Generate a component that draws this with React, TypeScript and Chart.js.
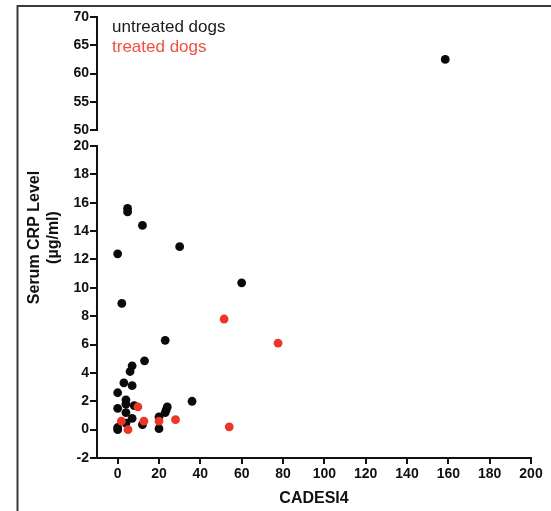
import React, { useEffect, useRef } from 'react';
import { Chart, registerables } from 'chart.js';

Chart.register(...registerables);

// ---- data ----
const seriesNames = ['untreated dogs', 'treated dogs'];
const untreatedCadesi = [158.5, 4.8, 4.8, 12, 30, 0, 60, 2, 23, 13, 7, 6, 7, 3, 0, 36, 4, 4, 8, 24, 23.5, 23, 0, 4, 20, 7, 4, 12, 0, 0, 20];
const untreatedCrp = [62.5, 15.6, 15.35, 14.4, 12.9, 12.4, 10.35, 8.9, 6.3, 4.85, 4.5, 4.1, 3.1, 3.3, 2.6, 2.0, 2.1, 1.8, 1.7, 1.6, 1.4, 1.2, 1.5, 1.2, 0.9, 0.8, 0.45, 0.35, 0.15, 0, 0.07];
const treatedCadesi = [1.8, 5, 9.8, 12.7, 20, 28, 51.5, 54, 77.6];
const treatedCrp = [0.6, 0, 1.6, 0.6, 0.6, 0.7, 7.8, 0.2, 6.1];
const xTicks = [0, 20, 40, 60, 80, 100, 120, 140, 160, 180, 200];
const yLowTicks = [-2, 0, 2, 4, 6, 8, 10, 12, 14, 16, 18, 20];
const yHighTicks = [50, 55, 60, 65, 70];
const xTitle = 'CADESI4';
const yTitleLines = ['Serum CRP Level', '(µg/ml)'];

const FONT = '"Liberation Sans", Arial, Helvetica, sans-serif';
const AXIS = '#111111';
const BLACK_PT = '#0a0a0a';
const RED_PT = '#ec3626';
const RED_TEXT = '#f05040';

const lowPts = (xs: number[], ys: number[]) =>
  xs.map((x, i) => ({ x, y: ys[i] })).filter((p) => p.y <= 20);
const highPts = (xs: number[], ys: number[]) =>
  xs.map((x, i) => ({ x, y: ys[i] })).filter((p) => p.y >= 50);

const decorPlugin = {
  id: 'decor',
  afterDraw(chart: any) {
    const ctx = chart.ctx;
    const area = chart.chartArea;
    ctx.save();
    // frame
    ctx.fillStyle = '#3a3a3a';
    ctx.fillRect(17, 5, 551 - 17, 2);
    ctx.fillRect(16.5, 5, 2, 511 - 5);
    // legend
    ctx.font = `17px ${FONT}`;
    ctx.textAlign = 'left';
    ctx.textBaseline = 'alphabetic';
    ctx.fillStyle = '#1a1a1a';
    ctx.fillText(seriesNames[0], 112, 32);
    ctx.fillStyle = RED_TEXT;
    ctx.fillText(seriesNames[1], 112, 52);
    // y title
    const cy = (area.top + area.bottom) / 2;
    ctx.font = `bold 16px ${FONT}`;
    ctx.fillStyle = AXIS;
    ctx.textAlign = 'center';
    ctx.textBaseline = 'middle';
    const xs = [35, 54];
    yTitleLines.forEach((t, i) => {
      ctx.save();
      ctx.translate(xs[i], cy);
      ctx.rotate(-Math.PI / 2);
      ctx.fillText(t, 0, 0);
      ctx.restore();
    });
    ctx.restore();
  },
};

const tickFont = { family: FONT, size: 14, weight: 'bold' as const };

export default function App() {
  const ref = useRef<HTMLCanvasElement | null>(null);
  useEffect(() => {
    if (!ref.current) return;
    Chart.defaults.font.family = FONT;
    const yCommon = (ticks: number[]) => ({
      type: 'linear' as const,
      position: 'left' as const,
      stack: 'crp',
      min: ticks[0],
      max: ticks[ticks.length - 1],
      afterBuildTicks: (s: any) => {
        s.ticks = ticks.map((v) => ({ value: v }));
      },
      afterFit: (s: any) => {
        s.width = 97;
      },
      border: { display: true, color: AXIS, width: 2 },
      grid: { display: true, drawOnChartArea: false, drawTicks: true, tickLength: 7, color: AXIS, lineWidth: 2 },
      ticks: { color: AXIS, font: tickFont, padding: 1, autoSkip: false },
    });
    const chart = new Chart(ref.current, {
      type: 'scatter',
      data: {
        datasets: [
          {
            label: seriesNames[1],
            data: lowPts(treatedCadesi, treatedCrp),
            yAxisID: 'yLow',
            backgroundColor: RED_PT,
            borderWidth: 0,
            pointRadius: 4.4,
            order: 0,
          },
          {
            label: seriesNames[0],
            data: lowPts(untreatedCadesi, untreatedCrp),
            yAxisID: 'yLow',
            backgroundColor: BLACK_PT,
            borderWidth: 0,
            pointRadius: 4.4,
            order: 1,
          },
          {
            label: seriesNames[0] + ' (high)',
            data: highPts(untreatedCadesi, untreatedCrp),
            yAxisID: 'yHigh',
            backgroundColor: BLACK_PT,
            borderWidth: 0,
            pointRadius: 4.4,
            order: 1,
          },
        ],
      },
      options: {
        responsive: false,
        animation: false,
        devicePixelRatio: 1,
        layout: { padding: { top: 17, right: 20, bottom: 0, left: 0 } },
        plugins: { legend: { display: false }, tooltip: { enabled: false } },
        events: [],
        scales: {
          x: {
            type: 'linear',
            position: 'bottom',
            min: -10,
            max: 200,
            afterBuildTicks: (s: any) => {
              s.ticks = xTicks.map((v) => ({ value: v }));
            },
            afterFit: (s: any) => {
              s.height = 53;
            },
            border: { display: true, color: AXIS, width: 2 },
            grid: { display: true, drawOnChartArea: false, drawTicks: true, tickLength: 6, color: AXIS, lineWidth: 2 },
            ticks: { color: AXIS, font: tickFont, padding: 2, maxRotation: 0, autoSkip: false },
            title: {
              display: true,
              text: xTitle,
              color: AXIS,
              font: { family: FONT, size: 16, weight: 'bold' },
              padding: { top: 0, bottom: 3 },
            },
          },
          yHigh: { ...yCommon(yHighTicks), stackWeight: 113, weight: 3 },
          yGap: {
            type: 'linear',
            position: 'left',
            stack: 'crp',
            stackWeight: 16,
            weight: 2,
            min: 0,
            max: 1,
            afterFit: (s: any) => {
              s.width = 97;
            },
            border: { display: false },
            grid: { display: false },
            ticks: { display: false },
          },
          yLow: { ...yCommon(yLowTicks), stackWeight: 312, weight: 1 },
        } as any,
      },
      plugins: [decorPlugin],
    });
    return () => chart.destroy();
  }, []);
  return (
    <div style={{ position: 'fixed', left: 0, top: 0, width: 551, height: 511, background: '#fff' }}>
      <canvas ref={ref} width={551} height={511} style={{ display: 'block' }} />
    </div>
  );
}
